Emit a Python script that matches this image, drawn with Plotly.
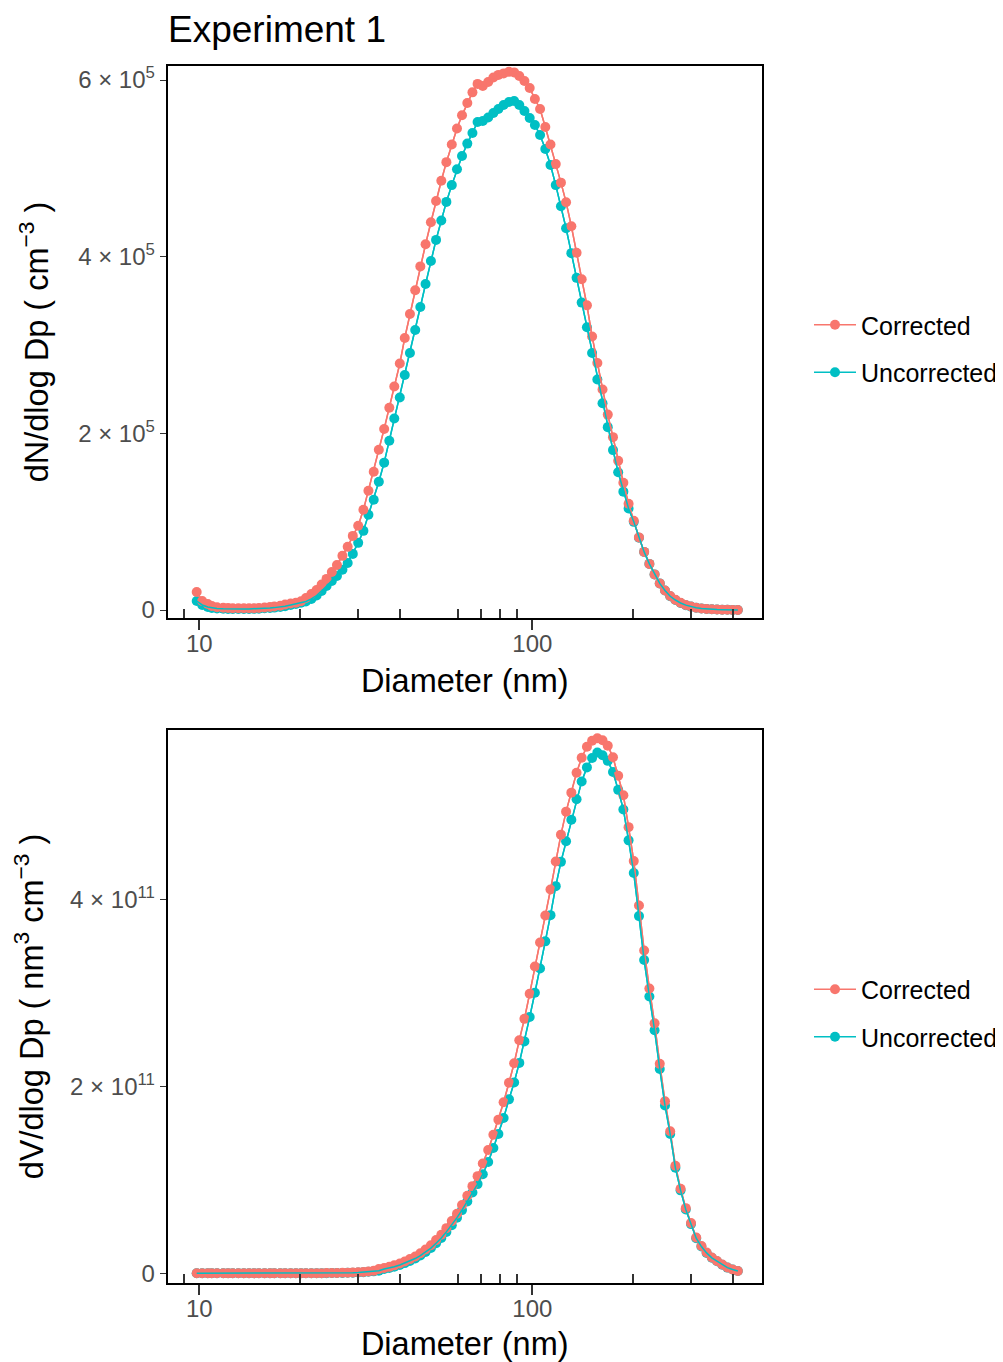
import plotly.graph_objects as go

# ---------------- data ----------------
diameter_nm = [
    9.82, 10.2, 10.6, 10.9, 11.3, 11.8, 12.2, 12.6, 13.1, 13.6,
    14.1, 14.6, 15.1, 15.7, 16.3, 16.8, 17.5, 18.1, 18.8, 19.5,
    20.2, 20.9, 21.7, 22.5, 23.3, 24.1, 25.0, 25.9, 26.9, 27.9,
    28.9, 30.0, 31.1, 32.2, 33.4, 34.6, 35.9, 37.2, 38.5, 40.0,
    41.4, 42.9, 44.5, 46.1, 47.8, 49.6, 51.4, 53.3, 55.2, 57.3,
    59.4, 61.5, 63.8, 66.1, 68.5, 71.0, 73.7, 76.4, 79.1, 82.0,
    85.1, 88.2, 91.4, 94.7, 98.2, 101.8, 105.5, 109.4, 113.4, 117.6,
    121.9, 126.3, 131.0, 135.8, 140.7, 145.9, 151.2, 156.8, 162.5, 168.5,
    174.7, 181.1, 187.7, 194.6, 201.7, 209.1, 216.7, 224.7, 232.9, 241.4,
    250.3, 259.5, 269.0, 278.8, 289.0, 299.6, 310.6, 322.0, 333.8, 346.0,
    358.7, 371.8, 385.4, 399.5, 414.2,
]

dN_corrected = [
    20400, 10200, 6800, 4500, 3200, 2600, 2200, 2000, 1900, 1900,
    2000, 2100, 2300, 2900, 3400, 4000, 4800, 6200, 7300, 8300,
    9900, 13600, 18200, 22700, 28900, 35200, 43100, 51000, 61300, 71500,
    83900, 95300, 113400, 135000, 156500, 181500, 205000, 229000, 253000, 279000,
    308000, 335000, 362000, 389000, 414000, 439000, 463000, 486000, 507000, 527000,
    545000, 560000, 574000, 586000, 595600, 593300, 597800, 602900, 605800, 607500,
    609200, 608600, 604600, 598900, 591000, 578500, 567200, 546700, 526900, 504800,
    483800, 461700, 434500, 404400, 374400, 344900, 309700, 279600, 249600, 221200,
    195700, 169000, 144100, 120200, 101000, 82200, 65800, 52200, 40300, 30100,
    22100, 15900, 11700, 8200, 5700, 4000, 2600, 1700, 1150, 780,
    540, 350, 210, 120, 70,
]

dN_uncorrected = [
    10200, 5700, 3400, 2300, 1700, 1400, 1200, 1100, 1100, 1100,
    1200, 1300, 1500, 1900, 2300, 2700, 3400, 4200, 5700, 6800,
    8200, 9600, 12500, 16400, 21600, 27200, 32900, 38600, 45500, 53300,
    63500, 76000, 89600, 107800, 124800, 145200, 166800, 191700, 216700, 240500,
    266000, 291000, 317000, 343000, 369000, 395000, 419000, 441000, 462000, 481000,
    499000, 514000, 528000, 540000, 552500, 553600, 557500, 562700, 567200, 571700,
    575100, 576300, 571700, 564900, 557000, 549000, 537700, 521800, 503700, 481000,
    457100, 432200, 404000, 376000, 348000, 320000, 291000, 261000, 234000, 207000,
    181000, 156000, 134000, 115000, 99800, 81700, 65800, 52200, 40300, 30100,
    22100, 15500, 11300, 7900, 5500, 3850, 2500, 1650, 1100, 760,
    530, 340, 200, 118, 68,
]

dV_corrected = [
    1.0e7, 6.0e6, 4.5e6, 3.5e6, 3.0e6, 2.7e6, 2.6e6, 2.7e6, 2.9e6, 3.2e6,
    3.6e6, 4.2e6, 5.0e6, 6.5e6, 8.5e6, 1.1e7, 1.5e7, 2.1e7, 2.7e7, 3.4e7,
    4.4e7, 6.6e7, 9.7e7, 1.3e8, 1.8e8, 2.4e8, 3.2e8, 4.1e8, 5.4e8, 7.0e8,
    9.0e8, 1.15e9, 1.5e9, 2.0e9, 2.6e9, 4.5e9, 5.6e9, 6.9e9, 8.5e9, 1.05e10,
    1.27e10, 1.52e10, 1.80e10, 2.14e10, 2.54e10, 3.00e10, 3.55e10, 4.13e10, 4.83e10, 5.58e10,
    6.37e10, 7.31e10, 8.30e10, 9.32e10, 1.039e11, 1.175e11, 1.319e11, 1.482e11, 1.643e11, 1.829e11,
    2.038e11, 2.246e11, 2.493e11, 2.721e11, 2.990e11, 3.281e11, 3.538e11, 3.826e11, 4.104e11, 4.403e11,
    4.691e11, 4.937e11, 5.140e11, 5.353e11, 5.514e11, 5.631e11, 5.695e11, 5.721e11, 5.700e11, 5.641e11,
    5.518e11, 5.321e11, 5.113e11, 4.771e11, 4.408e11, 3.933e11, 3.452e11, 3.046e11, 2.673e11, 2.240e11,
    1.840e11, 1.519e11, 1.151e11, 9.05e10, 6.97e10, 5.37e10, 3.82e10, 2.92e10, 2.22e10, 1.69e10,
    1.31e10, 9.4e9, 6.2e9, 4.1e9, 2.5e9,
]

dV_uncorrected = [
    5.0e6, 3.0e6, 2.0e6, 1.6e6, 1.4e6, 1.3e6, 1.3e6, 1.4e6, 1.6e6, 1.8e6,
    2.1e6, 2.5e6, 3.1e6, 4.2e6, 5.7e6, 7.5e6, 1.05e7, 1.4e7, 2.0e7, 2.6e7,
    3.5e7, 4.6e7, 6.6e7, 9.3e7, 1.3e8, 1.8e8, 2.4e8, 3.1e8, 4.0e8, 5.3e8,
    7.0e8, 9.1e8, 1.2e9, 1.6e9, 2.1e9, 2.8e9, 4.6e9, 5.7e9, 7.1e9, 8.9e9,
    1.09e10, 1.32e10, 1.58e10, 1.90e10, 2.27e10, 2.70e10, 3.22e10, 3.77e10, 4.43e10, 5.14e10,
    5.95e10, 6.76e10, 7.69e10, 8.65e10, 9.54e10, 1.06e11, 1.19e11, 1.34e11, 1.49e11, 1.66e11,
    1.86e11, 2.04e11, 2.25e11, 2.48e11, 2.74e11, 3.00e11, 3.26e11, 3.55e11, 3.83e11, 4.14e11,
    4.40e11, 4.62e11, 4.85e11, 5.07e11, 5.26e11, 5.41e11, 5.51e11, 5.57e11, 5.54e11, 5.48e11,
    5.36e11, 5.17e11, 4.96e11, 4.63e11, 4.28e11, 3.82e11, 3.35e11, 2.96e11, 2.60e11, 2.185e11,
    1.795e11, 1.489e11, 1.128e11, 8.87e10, 6.83e10, 5.26e10, 3.75e10, 2.86e10, 2.18e10, 1.66e10,
    1.28e10, 9.2e9, 6.1e9, 4.0e9, 2.45e9,
]

x_tick_vals = [10, 100]
x_tick_text = ["10", "100"]
x_minor_ticks = [9, 20, 30, 40, 60, 70, 80, 90, 200, 300, 400]
x_mid_ticks = [50]

top_y_ticks = [0, 2e5, 4e5, 6e5]
top_y_text = ["0", "2 \u00d7 10<sup>5</sup>", "4 \u00d7 10<sup>5</sup>", "6 \u00d7 10<sup>5</sup>"]
bot_y_ticks = [0, 2e11, 4e11]
bot_y_text = ["0", "2 \u00d7 10<sup>11</sup>", "4 \u00d7 10<sup>11</sup>"]

series_names = ["Corrected", "Uncorrected"]

# ---------------- style ----------------
# the page body adds an 8 px margin, so the figure is drawn 8 px in/down
OFF = 8
W, H = 1003 - OFF, 1362 - OFF
RED = "#F8766D"
CYAN = "#00BFC4"
FONT = "Liberation Sans, Arial, sans-serif"
TICKC = "#333333"


def fx(px):
    return (px - OFF) / W


def fy(py):
    return 1 - (py - OFF) / H


x_dom = [fx(168.5), fx(766.5)]
top_dom = [fy(618), fy(66)]
bot_dom = [fy(1283), fy(730)]
x_range = [0.9045, 2.6896]
top_range = [-9056, 615850]
bot_range = [-1.037e10, 5.81e11]

MS = 10
LW = 1.5

fig = go.Figure()


def add_panel(xa, ya, leg, red_vals, cyan_vals):
    fig.add_trace(go.Scatter(
        x=diameter_nm, y=cyan_vals, mode="lines+markers", name=series_names[1],
        marker=dict(color=CYAN, size=MS), line=dict(color=CYAN, width=LW),
        xaxis=xa, yaxis=ya, legend=leg, legendgroup=leg + "u", legendrank=2))
    fig.add_trace(go.Scatter(
        x=diameter_nm, y=red_vals, mode="lines+markers", name=series_names[0],
        marker=dict(color=RED, size=MS), line=dict(color=RED, width=LW),
        xaxis=xa, yaxis=ya, legend=leg, legendgroup=leg + "c", legendrank=1))
    fig.add_trace(go.Scatter(
        x=diameter_nm, y=red_vals, mode="lines", showlegend=False, hoverinfo="skip",
        line=dict(color=RED, width=LW), xaxis=xa, yaxis=ya))
    fig.add_trace(go.Scatter(
        x=diameter_nm, y=cyan_vals, mode="lines", showlegend=False, hoverinfo="skip",
        line=dict(color=CYAN, width=LW), xaxis=xa, yaxis=ya))


add_panel("x", "y", "legend", dN_corrected, dN_uncorrected)
add_panel("x2", "y2", "legend2", dV_corrected, dV_uncorrected)

tickfont = dict(family=FONT, size=24, color="#4D4D4D")
titlefont = dict(family=FONT, size=32.5, color="black")


def main_x(anchor, dom):
    return dict(
        type="log", range=x_range, domain=dom, anchor=anchor,
        tickmode="array", tickvals=x_tick_vals, ticktext=x_tick_text,
        ticks="outside", ticklen=10, tickwidth=1.5, tickcolor=TICKC,
        ticklabelstandoff=-7,
        minor=dict(tickmode="array", tickvals=x_minor_ticks, ticks="inside",
                   ticklen=9, tickwidth=1.5, tickcolor=TICKC, showgrid=False),
        showline=True, mirror=True, linecolor="black", linewidth=1.6,
        showgrid=False, zeroline=False, tickfont=tickfont,
        title=dict(text="Diameter (nm)", font=titlefont, standoff=14),
        automargin=False,
    )


def overlay_x(over, anchor):
    return dict(
        type="log", range=x_range, overlaying=over, anchor=anchor,
        tickmode="array", tickvals=x_tick_vals, ticks="inside", ticklen=22,
        tickwidth=1.5, tickcolor=TICKC,
        minor=dict(tickmode="array", tickvals=x_mid_ticks, ticks="inside",
                   ticklen=15, tickwidth=1.5, tickcolor=TICKC, showgrid=False),
        showticklabels=False, showline=False, showgrid=False, zeroline=False,
        automargin=False,
    )


def main_y(anchor, dom, rng, tv, tt, title):
    return dict(
        range=rng, domain=dom, anchor=anchor,
        tickmode="array", tickvals=tv, ticktext=tt,
        ticks="outside", ticklen=6, tickwidth=1.3, tickcolor=TICKC,
        showline=True, mirror=True, linecolor="black", linewidth=1.6,
        showgrid=False, zeroline=False, tickfont=tickfont,
        title=dict(text=title, font=titlefont, standoff=20),
        automargin=False,
    )


legend_common = dict(
    font=dict(family=FONT, size=25, color="black"),
    xanchor="left", yanchor="middle", x=fx(814),
    bgcolor="rgba(255,255,255,0)", borderwidth=0,
    tracegroupgap=12, itemwidth=42,
)

fig.update_layout(
    width=W, height=H,
    margin=dict(l=0, r=0, t=0, b=0),
    paper_bgcolor="white", plot_bgcolor="white",
    font=dict(family=FONT, color="black"),
    title=dict(text="Experiment 1", font=dict(family=FONT, size=37, color="black"),
               x=fx(168), xanchor="left", xref="container",
               y=fy(29), yanchor="middle", yref="container"),
    xaxis=main_x("y", x_dom),
    xaxis2=main_x("y2", x_dom),
    xaxis3=overlay_x("x", "y"),
    xaxis4=overlay_x("x2", "y2"),
    yaxis=main_y("x", top_dom, top_range, top_y_ticks, top_y_text,
                 "dN/dlog Dp ( cm<sup>\u22123</sup> )"),
    yaxis2=main_y("x2", bot_dom, bot_range, bot_y_ticks, bot_y_text,
                  "dV/dlog Dp ( nm<sup>3</sup> cm<sup>\u22123</sup> )"),
    legend=dict(legend_common, y=fy(348.5)),
    legend2=dict(legend_common, y=fy(1013)),
    showlegend=True,
)

fig.write_html("out.html")
